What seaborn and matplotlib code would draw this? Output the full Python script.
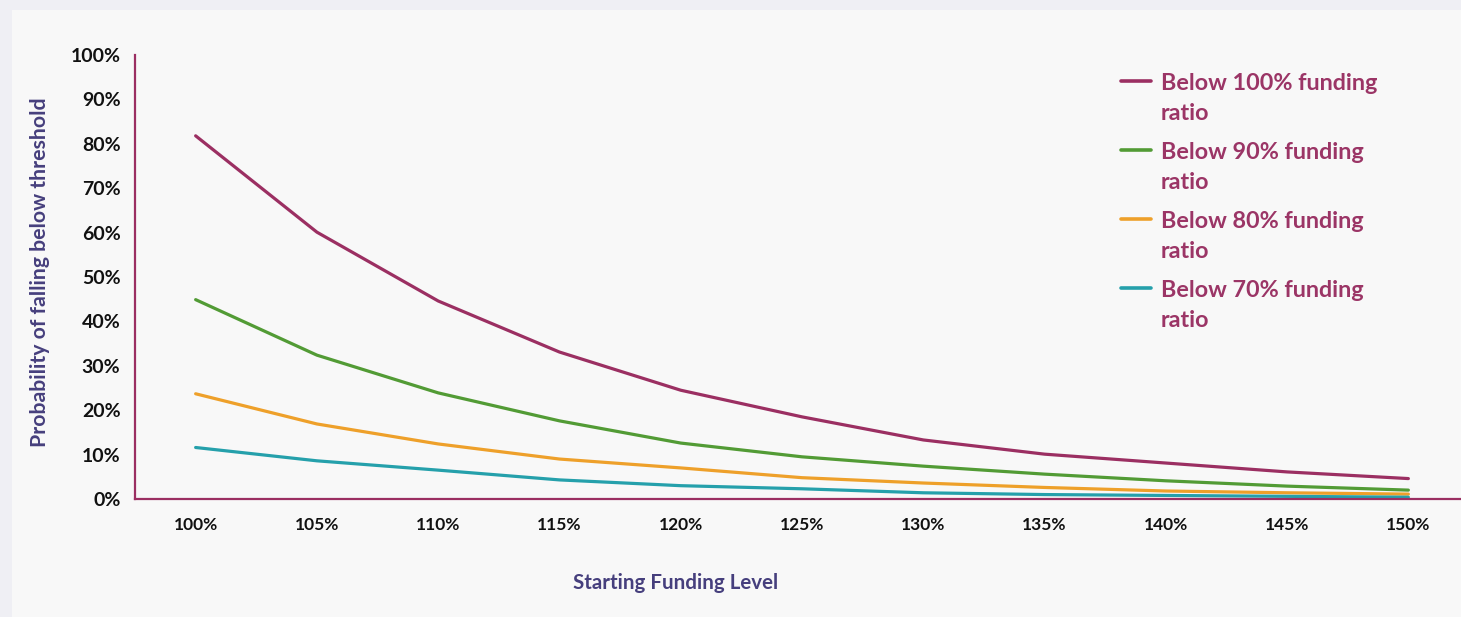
import matplotlib
matplotlib.use("Agg")
import matplotlib.pyplot as plt
from matplotlib.ticker import FuncFormatter, MultipleLocator
import seaborn as sns
import pandas as pd
import numpy as np

# Starting funding level (%)
start_levels = [100, 105, 110, 115, 120, 125, 130, 135, 140, 145, 150]

# Probability (%) of falling below each funding-ratio threshold
below_100 = [81.8, 60.1, 44.6, 33.1, 24.5, 18.5, 13.3, 10.1, 8.1, 6.1, 4.6]
below_90 = [44.9, 32.4, 23.9, 17.6, 12.6, 9.5, 7.4, 5.6, 4.1, 2.9, 2.0]
below_80 = [23.7, 16.9, 12.4, 9.0, 7.0, 4.8, 3.6, 2.6, 1.8, 1.4, 1.1]
below_70 = [11.6, 8.6, 6.5, 4.3, 3.0, 2.3, 1.4, 1.0, 0.8, 0.6, 0.4]

series_labels = [
    "Below 100% funding\nratio",
    "Below 90% funding\nratio",
    "Below 80% funding\nratio",
    "Below 70% funding\nratio",
]
series_values = [below_100, below_90, below_80, below_70]
series_colors = ["#9b2f62", "#529b35", "#eea02a", "#25a0ab"]

rows = []
for label, values in zip(series_labels, series_values):
    for lvl, v in zip(start_levels, values):
        rows.append({"start": lvl, "prob": v, "series": label})
df = pd.DataFrame(rows)

sns.set_theme(style="white")
plt.rcParams["font.family"] = ["Lato", "DejaVu Sans"]

W, H = 1461, 617
fig = plt.figure(figsize=(W / 100, H / 100), dpi=100)
fig.patch.set_facecolor("#efeff4")

# light panel behind the chart
panel = plt.Rectangle((12 / W, 0), 1 - 12 / W, 1 - 10 / H, transform=fig.transFigure,
                      facecolor="#f8f8f8", edgecolor="none", zorder=-10)
fig.patches.append(panel)

left_px, right_px, top_px, bottom_px = 135, 1469, 55, 499
ax_w_px = right_px - left_px
ax_h_px = bottom_px - top_px
ax = fig.add_axes([left_px / W, 1 - bottom_px / H, ax_w_px / W, ax_h_px / H])
ax.set_facecolor("none")

sns.lineplot(data=df, x="start", y="prob", hue="series", palette=series_colors,
             linewidth=2.3, ax=ax, legend=True)

ax.set_xlim(97.5, 152.5)
ax.set_ylim(0, 100)
ax.xaxis.set_major_locator(MultipleLocator(5))
ax.yaxis.set_major_locator(MultipleLocator(10))
ax.xaxis.set_major_formatter(FuncFormatter(lambda v, p: f"{v:.0f}%"))
ax.yaxis.set_major_formatter(FuncFormatter(lambda v, p: f"{v:.0f}%"))

spine_color = "#9b2f62"
for side in ["top", "right"]:
    ax.spines[side].set_visible(False)
for side in ["left", "bottom"]:
    ax.spines[side].set_color(spine_color)
    ax.spines[side].set_linewidth(1.6)

ax.tick_params(axis="both", length=0, colors="#111111")
ax.tick_params(axis="y", labelsize=14, pad=10.5)
ax.tick_params(axis="x", labelsize=12.5, pad=13)
for lbl in ax.get_yticklabels() + ax.get_xticklabels():
    lbl.set_fontweight("bold")

label_color = "#463f7d"
ax.set_xlabel("Starting Funding Level", fontsize=14.8, fontweight="bold",
              color=label_color)
ax.set_ylabel("Probability of falling below threshold", fontsize=15.3,
              fontweight="bold", color=label_color)
ax.xaxis.label.set_va("center")
ax.yaxis.label.set_va("center")
ax.xaxis.set_label_coords((676 - left_px) / ax_w_px, (bottom_px - 583) / ax_h_px)
ax.yaxis.set_label_coords((40 - left_px) / ax_w_px, (bottom_px - 272) / ax_h_px)

leg = ax.legend(loc="upper left", bbox_to_anchor=(1100 / W, 1 - 52 / H),
                bbox_transform=fig.transFigure, frameon=False, fontsize=16.8,
                handlelength=1.3, handletextpad=0.4, labelspacing=0.75,
                title=None)
for txt in leg.get_texts():
    txt.set_color("#9b3566")
    txt.set_fontweight("bold")
    txt.set_linespacing(1.55)
# lift each legend key up to the first line of its two-line label
for line in leg.get_lines():
    line.set_linewidth(2.6)
    line.set_ydata(np.asarray(line.get_ydata(), dtype=float) + 13)

fig.savefig("out.png", dpi=100, facecolor=fig.get_facecolor())
